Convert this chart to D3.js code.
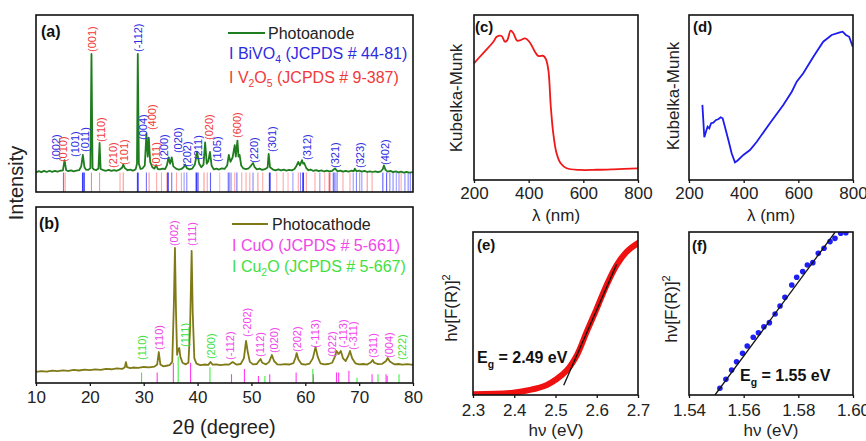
<!DOCTYPE html>
<html>
<head>
<meta charset="utf-8">
<script src="https://cdnjs.cloudflare.com/ajax/libs/d3/7.8.5/d3.min.js"></script>
<style>
body{margin:0;background:#fff;}
svg{font-family:"Liberation Sans",Arial,Helvetica,sans-serif;}
</style>
</head>
<body>
<div id="chart"></div>
<script>
/////////////////////// XRD data (2theta, intensity a.u.) ///////////////////////
var photoanode = [[10,11.0],[10.5,11.8],[11,11.2],[11.5,11.9],[12,11.3],[12.5,12.0],[13,11.4],[13.5,11.9],[14,11.5],[14.5,12.0],[15.0,12.2],[15.3,18.0],[15.6,12.3],[16,11.8],[16.5,12.2],[17,11.7],[17.5,12.1],[18,12.3],[18.4,14.5],[18.7,21.0],[19.0,14.0],[19.3,12.6],[19.7,12.5],[20.1,13.5],[20.3,78],[20.5,13.5],[20.8,12.6],[21.2,12.4],[21.6,13.3],[21.8,27.7],[22.0,13.0],[22.5,12.4],[23,12.0],[23.5,12.5],[24,11.9],[24.5,12.4],[25,12.0],[25.5,12.6],[26.0,13.8],[26.2,15.5],[26.5,13.5],[27,12.3],[27.5,12.6],[28.0,12.1],[28.5,12.8],[28.75,16],[28.9,78],[29.1,16],[29.4,13],[29.8,13.4],[30.2,15.0],[30.5,33],[30.75,20],[30.95,30.5],[31.2,17],[31.6,14.0],[32.0,13.2],[32.3,15.2],[32.6,13.0],[33.0,12.8],[33.5,13.2],[34.0,13.0],[34.3,15],[34.6,19.5],[34.9,16],[35.2,19.5],[35.5,14.5],[36.0,13.2],[36.5,12.7],[37.0,13.0],[37.4,14.0],[37.7,15.5],[38.0,13.5],[38.5,12.8],[39.0,13.2],[39.5,15.5],[39.9,22.6],[40.3,16],[40.7,14],[41.1,15.5],[41.4,28],[41.7,16],[42.0,17.5],[42.3,22.6],[42.6,15],[43.0,12.8],[43.5,13.2],[44.0,12.7],[44.5,13.3],[45.0,13.0],[45.5,15.0],[45.8,21],[46.1,17],[46.5,19.5],[46.9,26.5],[47.1,20],[47.4,29],[47.6,20],[47.8,21],[48.1,15],[48.5,13.3],[49.0,12.9],[49.5,13.4],[49.9,14.8],[50.3,16.4],[50.6,14.0],[51.0,12.8],[51.5,13.2],[52.0,12.5],[52.5,12.9],[53.0,13.8],[53.2,21.5],[53.45,14.0],[54.0,12.7],[54.5,12.2],[55.0,12.8],[55.5,12.2],[56.0,12.6],[56.5,12.1],[57.0,12.5],[57.5,12.2],[58.0,13.0],[58.4,15.0],[58.7,17],[59.0,15.0],[59.4,18],[59.6,16],[59.8,16.4],[60.2,13.4],[60.6,12.3],[61.0,12.7],[61.5,11.9],[62.0,12.4],[62.5,11.8],[63,12.2],[63.5,11.6],[64,12.1],[64.5,11.6],[65.0,12.0],[65.5,13.3],[66.0,11.7],[66.5,12.1],[67.0,11.5],[67.5,11.9],[68.0,11.5],[68.5,12.0],[69.0,11.8],[69.2,13.2],[69.5,11.7],[70.0,12.1],[70.5,11.5],[71.0,11.9],[71.5,11.3],[72.0,11.7],[72.5,11.3],[73.0,11.7],[73.5,11.2],[74.0,11.6],[74.4,13.0],[74.6,15],[74.9,12.5],[75.3,11.5],[75.8,11.9],[76.3,11.2],[76.8,11.6],[77.3,11.1],[77.8,11.5],[78.3,11.0],[78.8,11.4],[79.3,10.9],[80,11.2]];

var photocathode = [[10,6.3],[11,6.8],[12,6.5],[13,7.0],[14,6.7],[15,7.2],[16,6.9],[17,7.4],[18,7.1],[19,7.6],[20,7.3],[21,7.8],[22,7.5],[23,8.0],[24,7.8],[25,8.3],[26,8.0],[26.5,9.0],[26.7,11.9],[26.9,9.0],[27.5,8.4],[28,8.8],[29,8.6],[30,9.1],[31,8.9],[32,9.3],[32.5,10.5],[32.8,17.6],[33.1,10.5],[33.6,9.5],[34.2,9.8],[34.8,10.2],[35.3,12],[35.6,45],[35.8,76.7],[36.0,40],[36.2,16],[36.4,19],[36.6,19.9],[36.8,15],[37.2,11.5],[37.8,10.6],[38.3,11.5],[38.6,30],[38.9,75],[39.1,40],[39.4,14],[39.8,11],[40.5,10.2],[41.2,10.5],[42.0,10.3],[42.4,11.9],[42.8,10.4],[43.5,10.6],[44.2,10.2],[45.0,10.5],[45.8,10.4],[46.5,11.9],[47.2,10.5],[48.0,10.8],[48.6,14],[49.0,23.9],[49.3,18],[49.7,12],[50.3,10.6],[51.0,10.8],[51.4,12.5],[51.7,13.6],[52.0,11.5],[52.7,10.6],[53.3,12],[53.8,15.9],[54.2,12.5],[54.8,10.6],[55.5,10.4],[56.2,10.7],[57.0,10.5],[57.8,11.3],[58.2,14.5],[58.4,17],[58.7,13.5],[59.3,10.8],[60.0,10.5],[60.8,11],[61.4,14],[61.9,20.5],[62.3,15],[62.8,11.2],[63.5,10.6],[64.3,10.8],[65.0,11.5],[65.5,15],[65.8,18.2],[66.2,16.5],[66.6,18.2],[67.0,14],[67.5,12.5],[68.0,15.5],[68.3,18.2],[68.7,14],[69.3,11.2],[70.0,10.6],[70.8,10.8],[71.5,10.5],[72.2,11.8],[72.5,13.1],[72.8,11.5],[73.5,10.7],[74.3,10.9],[75.0,12.5],[75.3,14.2],[75.7,12.2],[76.5,10.6],[77.3,10.8],[78.0,10.4],[79.0,10.7],[80,10.3]];

// reference patterns: [2theta, strength]
var bivo4Sticks = [[15.1,.7],[18.7,1],[19.0,.8],[28.9,1],[30.5,.7],[34.5,.9],[35.2,.7],[37.5,.5],[38.0,.6],[39.8,1],[40.1,.8],[42.4,.8],[45.7,.8],[46.0,.7],[47.3,.7],[50.3,.6],[53.4,1],[57.7,.5],[59.1,.6],[59.6,1],[62.7,.5],[65.2,.8],[65.5,.8],[65.9,.7],[68.9,.5],[69.5,.6],[70.1,.5],[70.5,.5],[74.4,.8],[75.1,.8],[75.7,.6],[76.3,.6],[76.9,.5],[77.4,.5],[78.5,.6],[79.1,.6],[79.5,.6]];
var v2o5Sticks = [[15.4,.6],[20.3,.7],[21.8,.6],[25.6,.5],[26.2,.6],[31.0,.6],[32.4,.5],[33.3,.5],[34.3,.5],[36.1,.5],[37.0,.5],[41.2,.6],[41.8,.5],[44.1,.4],[46.3,.5],[46.9,.5],[48.2,.5],[49.0,.5],[49.7,.5],[51.2,.6],[52.1,.5],[54.7,.4],[55.9,.5],[56.8,.4],[58.7,.5],[60.2,.5],[61.8,.5],[63.6,.4],[64.5,.9],[67.0,.5],[68.3,.5],[71.5,.6],[72.4,.5],[77.8,.5]];
// [2theta, height a.u.]
var cuoSticks = [[32.5,6],[35.5,11.5],[38.7,11.5],[46.3,5],[48.7,8],[51.3,4],[53.4,5],[58.3,6],[61.5,5],[65.8,6],[66.2,6],[68.1,7],[72.4,5],[75.0,5],[75.2,4]];
var cu2oSticks = [[29.6,6],[36.4,15],[42.3,9],[52.5,4],[61.4,8],[69.6,3],[73.5,5],[77.4,5]];

// peak labels: [text, 2theta, intensity at label start, phase]
var labelsA = [["(002)",13.7,18.1,"b"],["(010)",15.0,16.9,"v"],["(101)",17.2,19.8,"b"],["(011)",19.1,22.6,"b"],["(001)",20.4,79.1,"v"],["(110)",22.1,28.2,"v"],["(210)",24.3,13.6,"v"],["(101)",26.3,15.3,"v"],["(-112)",28.9,79.1,"b"],["(004)",29.9,29.4,"b"],["(400)",31.5,35,"v"],["(011)",32.3,14.1,"v"],["(200)",33.8,18.1,"b"],["(020)",36.4,22,"b"],["(202)",38.0,14.1,"b"],["(211)",40.1,18.1,"b"],["(020)",42.1,29.4,"v"],["(105)",43.6,16.9,"b"],["(600)",47.3,30.5,"v"],["(220)",50.5,16.4,"b"],["(301)",53.8,22.6,"b"],["(312)",60.3,18.1,"b"],["(321)",65.5,13.6,"b"],["(323)",70.2,13.6,"b"],["(402)",74.8,15.3,"b"]];
var labelsB = [["(110)",29.7,13.1,"g"],["(110)",32.8,18.8,"m"],["(002)",35.6,77.8,"m"],["(111)",37.7,20.5,"g"],["(111)",39.0,77.8,"m"],["(200)",42.5,13.6,"g"],["(-112)",46.0,13.1,"m"],["(-202)",49.2,26.1,"m"],["(112)",51.6,14.8,"m"],["(020)",54.2,17,"m"],["(202)",58.5,17.6,"m"],["(-113)",61.8,19.9,"m"],["(022)",65.0,14.8,"m"],["(-113)",67.0,19.9,"m"],["(-311)",68.9,18.8,"m"],["(311)",72.6,14.2,"m"],["(004)",75.5,14.2,"m"],["(222)",78.0,13.1,"g"]];

var xrdTicks = [10,20,30,40,50,60,70,80];

/////////////////////// optical data ///////////////////////
var bivo4Lambda = [200,233,271,283,301,313,322,334,344,358,371,387,405,423,435,454,463,472,481,490,502,517,539,588,650,709,800];
var bivo4KM = [0.707,0.768,0.838,0.868,0.873,0.838,0.848,0.905,0.889,0.844,0.848,0.858,0.832,0.777,0.752,0.752,0.732,0.667,0.444,0.283,0.162,0.101,0.071,0.061,0.062,0.065,0.071];
var cuoLambda = [249,256,262,268,274,281,289,299,307,316,323,328,344,356,368,377,399,423,448,496,545,576,594,618,655,691,722,752,762,774,786,799];
var cuoKM = [0.455,0.259,0.293,0.323,0.313,0.344,0.347,0.364,0.368,0.38,0.374,0.344,0.242,0.162,0.107,0.117,0.152,0.182,0.232,0.344,0.455,0.535,0.596,0.647,0.747,0.838,0.879,0.895,0.899,0.879,0.868,0.808];
var lambdaTicks = [200,400,600,800];

var tacE = [2.30,2.397,2.438,2.479,2.503,2.527,2.552,2.576,2.600,2.624,2.649,2.673,2.70];
var tacF = [0.004,0.014,0.031,0.062,0.098,0.150,0.245,0.390,0.530,0.675,0.800,0.880,0.932];
var tacFitE = [2.52,2.648];
var tacFitF = [0.06,0.80];
var eTicks = [2.3,2.4,2.5,2.6,2.7];

var cuoE = [1.5513,1.5535,1.5556,1.5574,1.5596,1.5613,1.5635,1.5654,1.5674,1.5694,1.5715,1.5733,1.5751,1.5776,1.5794,1.5816,1.5833,1.5853,1.5873,1.5894,1.5916,1.5934,1.5955,1.5974];
var cuoF = [0.041,0.096,0.153,0.204,0.256,0.301,0.354,0.382,0.419,0.444,0.497,0.546,0.599,0.675,0.722,0.757,0.798,0.812,0.869,0.9,0.941,0.961,0.992,0.996];
var cuoFitE = [1.5495,1.5935];
var cuoFitF = [0.0,1.0];
var fTicks = [1.54,1.56,1.58,1.60];

/////////////////////// colours ///////////////////////
var phaseColor = {b:"#2c2ce0", v:"#f03a3a", m:"#f046ea", g:"#42e042"};

var width = 866, height = 441;
var svg = d3.select("#chart").append("svg")
  .attr("width", width)
  .attr("height", height);
svg.append("rect").attr("width", width).attr("height", height).attr("fill", "#fff");

var defs = svg.append("defs");

function frame(box, id) {
  defs.append("clipPath").attr("id", id)
    .append("rect")
      .attr("x", box.x0).attr("y", box.y0)
      .attr("width", box.x1 - box.x0).attr("height", box.y1 - box.y0);
}

function border(box) {
  svg.append("rect")
    .attr("x", box.x0).attr("y", box.y0)
    .attr("width", box.x1 - box.x0).attr("height", box.y1 - box.y0)
    .attr("fill", "none").attr("stroke", "#111").attr("stroke-width", 1.6);
}

function bottomAxis(scale, box, ticks, fmt, pad) {
  var ax = d3.axisBottom(scale).tickValues(ticks).tickSizeInner(3).tickSizeOuter(0).tickPadding(pad);
  if (fmt) ax.tickFormat(d3.format(fmt));
  var g = svg.append("g")
    .attr("transform", "translate(0," + box.y1 + ")")
    .call(ax);
  g.select(".domain").remove();
  g.selectAll("line").attr("stroke", "#111").attr("stroke-width", 1.3);
  g.selectAll("text").attr("font-size", 17).attr("fill", "#222")
    .attr("font-family", "Liberation Sans, Arial, sans-serif");
}

function panelTag(txt, x, y, size) {
  svg.append("text").attr("x", x).attr("y", y)
    .attr("font-size", size).attr("font-weight", "bold").attr("fill", "#111")
    .text(txt);
}

// text with sub/superscripts, parts = [[string, shift]]
function richText(g, parts, size) {
  var cur = 0;
  parts.forEach(function(p) {
    var t = g.append("tspan").text(p[0]);
    var dy = p[1] - cur;
    if (dy !== 0) t.attr("dy", dy);
    if (p[1] !== 0) t.attr("font-size", size * 0.65);
    cur = p[1];
  });
}

/////////////////////// XRD panels ///////////////////////
var boxA = {x0:36, x1:413, y0:15, y1:192};
var boxB = {x0:36, x1:413, y0:207, y1:383};

function xrdPanel(box, trace, traceColor, sticks, labels, clipId) {
  frame(box, clipId);
  var x = d3.scaleLinear().domain([10, 80]).range([box.x0, box.x1]);
  var y = d3.scaleLinear().domain([0, 100]).range([box.y1, box.y0]);
  var g = svg.append("g").attr("clip-path", "url(#" + clipId + ")");

  sticks.forEach(function(s) {
    g.selectAll(null)
      .data(s.data)
      .enter()
        .append("line")
        .attr("x1", function(d) { return x(d[0]); })
        .attr("x2", function(d) { return x(d[0]); })
        .attr("y1", y(0))
        .attr("y2", function(d) { return s.fixed ? y(s.fixed) : y(d[1]); })
        .attr("stroke", s.color)
        .attr("stroke-width", function(d) { return s.fixed && d[1] > 0.85 ? 1.8 : 1.1; })
        .attr("stroke-opacity", function(d) { return s.fixed ? d[1] * 0.9 : 1; });
  });

  g.append("path")
    .datum(trace)
    .attr("fill", "none")
    .attr("stroke", traceColor)
    .attr("stroke-width", 1.8)
    .attr("stroke-linejoin", "round")
    .attr("d", d3.line().x(function(d) { return x(d[0]); }).y(function(d) { return y(d[1]); }));

  svg.append("g").selectAll("text")
    .data(labels)
    .enter()
      .append("text")
      .attr("transform", function(d) { return "translate(" + x(d[1]) + "," + y(d[2]) + ") rotate(-90)"; })
      .attr("dy", "0.35em")
      .attr("font-size", 11)
      .attr("fill", function(d) { return phaseColor[d[3]]; })
      .text(function(d) { return d[0]; });

  border(box);
  return x;
}

xrdPanel(boxA, photoanode, "#1f7d1f",
  [{data: v2o5Sticks, color: "#ff3b3b", fixed: 11},
   {data: bivo4Sticks, color: "#2323ff", fixed: 11}],
  labelsA, "clipA");

var xB = xrdPanel(boxB, photocathode, "#7f7a16",
  [{data: cu2oSticks, color: "#44ee44"},
   {data: cuoSticks, color: "#ff3cf0"}],
  labelsB, "clipB");
bottomAxis(xB, boxB, xrdTicks, null, 5);

panelTag("(a)", 41, 37, 16);
panelTag("(b)", 39, 229, 16);

// legend (a)
svg.append("line").attr("x1", 228).attr("x2", 265).attr("y1", 33).attr("y2", 33)
  .attr("stroke", "#1f7d1f").attr("stroke-width", 2);
svg.append("text").attr("x", 268).attr("y", 39).attr("font-size", 16).attr("fill", "#222").text("Photoanode");
richText(svg.append("text").attr("x", 229).attr("y", 59).attr("font-size", 16).attr("fill", phaseColor.b),
  [["I BiVO", 0], ["4", 4], [" (JCPDS # 44-81)", 0]], 16);
richText(svg.append("text").attr("x", 229).attr("y", 83).attr("font-size", 16).attr("fill", phaseColor.v),
  [["I V", 0], ["2", 4], ["O", 0], ["5", 4], [" (JCPDS # 9-387)", 0]], 16);

// legend (b)
svg.append("line").attr("x1", 232).attr("x2", 268).attr("y1", 224).attr("y2", 224)
  .attr("stroke", "#7f7a16").attr("stroke-width", 2);
svg.append("text").attr("x", 272).attr("y", 230).attr("font-size", 16).attr("fill", "#222").text("Photocathode");
richText(svg.append("text").attr("x", 232).attr("y", 251).attr("font-size", 16).attr("fill", phaseColor.m),
  [["I CuO (JCPDS # 5-661)", 0]], 16);
richText(svg.append("text").attr("x", 232).attr("y", 272).attr("font-size", 16).attr("fill", phaseColor.g),
  [["I Cu", 0], ["2", 4], ["O (JCPDS # 5-667)", 0]], 16);

svg.append("text")
  .attr("transform", "translate(23,183) rotate(-90)")
  .attr("text-anchor", "middle").attr("font-size", 20).attr("fill", "#222")
  .text("Intensity");
svg.append("text")
  .attr("x", 224).attr("y", 434)
  .attr("text-anchor", "middle").attr("font-size", 20).attr("fill", "#222")
  .text("2\u03b8 (degree)");

/////////////////////// optical panels ///////////////////////
var boxC = {x0:474, x1:638, y0:15, y1:180};
var boxD = {x0:689, x1:853, y0:15, y1:180};
var boxE = {x0:473, x1:638, y0:232, y1:395};
var boxF = {x0:689, x1:853, y0:232, y1:395};

function yTitle(x, y, parts) {
  var t = svg.append("text")
    .attr("transform", "translate(" + x + "," + y + ") rotate(-90)")
    .attr("text-anchor", "middle").attr("font-size", 17).attr("fill", "#222");
  richText(t, parts, 17);
}
function xTitle(x, y, txt) {
  svg.append("text").attr("x", x).attr("y", y)
    .attr("text-anchor", "middle").attr("font-size", 17).attr("fill", "#222")
    .text(txt);
}

function kmPanel(box, xs, ys, color, smooth, clipId) {
  frame(box, clipId);
  var x = d3.scaleLinear().domain([200, 800]).range([box.x0, box.x1]);
  var y = d3.scaleLinear().domain([0, 1]).range([box.y1, box.y0]);
  var pts = xs.map(function(v, i) { return [v, ys[i]]; });
  svg.append("path")
    .datum(pts)
    .attr("clip-path", "url(#" + clipId + ")")
    .attr("fill", "none").attr("stroke", color).attr("stroke-width", 1.8)
    .attr("d", d3.line().curve(smooth ? d3.curveCatmullRom : d3.curveLinear)
      .x(function(d) { return x(d[0]); }).y(function(d) { return y(d[1]); }));
  border(box);
  bottomAxis(x, box, lambdaTicks, null, 4);
  return x;
}

kmPanel(boxC, bivo4Lambda, bivo4KM, "#f01818", true, "clipC");
kmPanel(boxD, cuoLambda, cuoKM, "#1c1cf0", false, "clipD");
panelTag("(c)", 475, 32, 15);
panelTag("(d)", 693, 32, 15);
yTitle(462, 98, [["Kubelka-Munk", 0]]);
yTitle(679, 96, [["Kubelka-Munk", 0]]);
xTitle(556, 221, "\u03bb (nm)");
xTitle(771, 221, "\u03bb (nm)");

// (e) BiVO4 Tauc plot
frame(boxE, "clipE");
var xE = d3.scaleLinear().domain([2.3, 2.7]).range([boxE.x0, boxE.x1]);
var yE = d3.scaleLinear().domain([0, 1]).range([boxE.y1, boxE.y0]);
var gE = svg.append("g").attr("clip-path", "url(#clipE)");
gE.append("path")
  .datum(tacE.map(function(v, i) { return [v, tacF[i]]; }))
  .attr("fill", "none").attr("stroke", "#f01010").attr("stroke-width", 6)
  .attr("stroke-linecap", "round")
  .attr("d", d3.line().curve(d3.curveCatmullRom).x(function(d) { return xE(d[0]); }).y(function(d) { return yE(d[1]); }));
gE.append("line")
  .attr("x1", xE(tacFitE[0])).attr("y1", yE(tacFitF[0]))
  .attr("x2", xE(tacFitE[1])).attr("y2", yE(tacFitF[1]))
  .attr("stroke", "#111").attr("stroke-width", 1.3);
border(boxE);
bottomAxis(xE, boxE, eTicks, ".1f", 6);

// (f) CuO Tauc plot
frame(boxF, "clipF");
var xF = d3.scaleLinear().domain([1.54, 1.60]).range([boxF.x0, boxF.x1]);
var yF = d3.scaleLinear().domain([0, 1]).range([boxF.y1, boxF.y0]);
var gF = svg.append("g").attr("clip-path", "url(#clipF)");
gF.selectAll("circle")
  .data(cuoE.map(function(v, i) { return [v, cuoF[i]]; }))
  .enter()
    .append("circle")
    .attr("cx", function(d) { return xF(d[0]); })
    .attr("cy", function(d) { return yF(d[1]); })
    .attr("r", 2.8)
    .attr("fill", "#1e1ef5");
gF.append("line")
  .attr("x1", xF(cuoFitE[0])).attr("y1", yF(cuoFitF[0]))
  .attr("x2", xF(cuoFitE[1])).attr("y2", yF(cuoFitF[1]))
  .attr("stroke", "#111").attr("stroke-width", 1.3);
border(boxF);
bottomAxis(xF, boxF, fTicks, ".2f", 6);

panelTag("(e)", 477, 250, 15);
panelTag("(f)", 692, 251, 15);
yTitle(457, 308, [["h\u03bd[F(R)]", 0], ["2", -7]]);
yTitle(677, 309, [["h\u03bd[F(R)]", 0], ["2", -7]]);
xTitle(556, 436, "h\u03bd (eV)");
xTitle(771, 436, "h\u03bd (eV)");

var eg1 = svg.append("text").attr("x", 477).attr("y", 363).attr("font-size", 16).attr("font-weight", "bold").attr("fill", "#111");
richText(eg1, [["E", 0], ["g", 5], [" = 2.49 eV", 0]], 16);
var eg2 = svg.append("text").attr("x", 740).attr("y", 381).attr("font-size", 16).attr("font-weight", "bold").attr("fill", "#111");
richText(eg2, [["E", 0], ["g", 5], [" = 1.55 eV", 0]], 16);
</script>
</body>
</html>
